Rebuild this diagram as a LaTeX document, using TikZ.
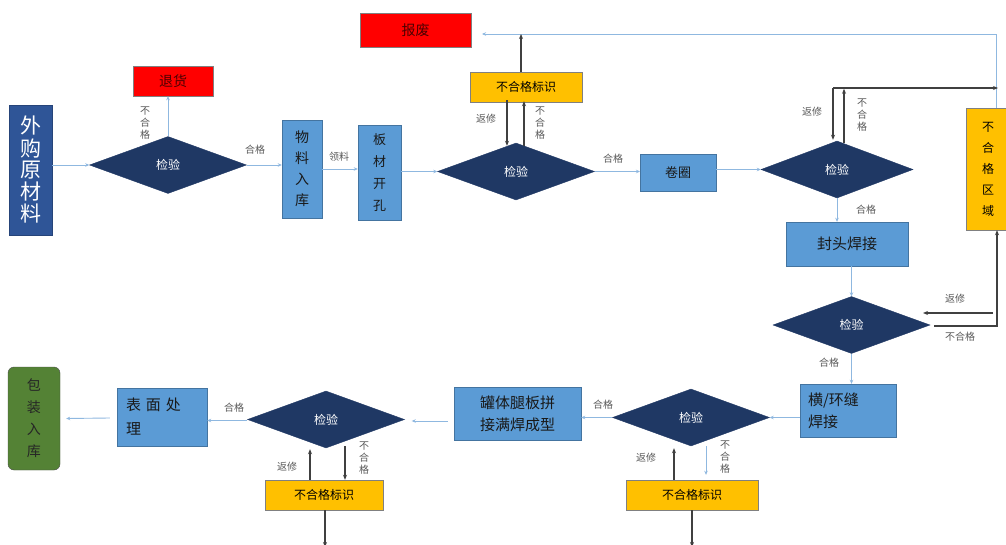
\documentclass[tikz,border=0pt]{standalone}
\usepackage{fontspec}
\setmainfont{Noto Sans CJK SC}
\usetikzlibrary{shapes.geometric,arrows.meta,calc}
\definecolor{boxdark}{HTML}{2F5597}
\definecolor{navy}{HTML}{1F3864}
\definecolor{lblue}{HTML}{5B9BD5}
\definecolor{yel}{HTML}{FFC000}
\definecolor{grn}{HTML}{548235}
\definecolor{arrowblue}{HTML}{8FB8E0}
\definecolor{darkarrow}{HTML}{404040}
\definecolor{labgray}{HTML}{595959}
\tikzset{
  fs/.style={font=\fontsize{#1}{#1}\selectfont},
  base/.style={inner sep=0pt, align=center},
  dbox/.style={base, rectangle, fill=boxdark, draw=boxdark!80!black, text=white},
  lbox/.style={base, rectangle, fill=lblue, draw=lblue!75!black, text=black!90},
  ybox/.style={base, rectangle, fill=yel, draw=gray, text=black, fs=12},
  rbox/.style={base, rectangle, fill=red, draw=gray, text=red!30!black, fs=14},
  gbox/.style={base, rectangle, rounded corners=6pt, fill=grn, draw=black!70, text=black!85},
  dia/.style={diamond, inner sep=0pt, fill=navy, draw=navy, text=white, fs=12, minimum width=157pt, minimum height=57pt},
  la/.style={draw=arrowblue, line width=0.9pt, -{Stealth[length=4pt,width=3.5pt]}},
  da/.style={draw=darkarrow, line width=1.3pt, -{Stealth[length=5pt,width=4pt]}},
  lab/.style={inner sep=0pt, text=labgray, font=\fontsize{10}{12}\selectfont, align=center},
}
\begin{document}
\begin{tikzpicture}[x=1pt,y=-1pt]
\useasboundingbox[fill=white] (0,0) rectangle (1006,545);

% nodes
\node[dbox, minimum width=43pt, minimum height=130pt, font=\fontsize{21}{22}\selectfont] (wg) at (30.5,170) {外\\购\\原\\材\\料};
\node[dia] (d1) at (168,165) {检验};
\node[rbox, minimum width=80pt, minimum height=30pt] (th) at (173,81) {退货};
\node[lbox, minimum width=40pt, minimum height=98pt, font=\fontsize{14}{21}\selectfont] (wl) at (302,169) {物\\料\\入\\库};
\node[lbox, minimum width=43pt, minimum height=95pt, font=\fontsize{13}{22}\selectfont] (bc) at (379.5,172.5) {板\\材\\开\\孔};
\node[dia] (d2) at (516,171.5) {检验};
\node[ybox, minimum width=112pt, minimum height=30pt] (y1) at (526,87) {不合格标识};
\node[rbox, minimum width=111pt, minimum height=34pt] (bf) at (415.5,30) {报废};
\node[lbox, minimum width=76pt, minimum height=37pt, fs=13, anchor=west, align=left, inner xsep=12pt] (jq) at (640,172.5) {卷圈};
\node[dia, minimum width=152pt] (d3) at (837,169.5) {检验};
\node[base, rectangle, fill=yel, draw=gray, minimum width=44pt, minimum height=122pt, font=\fontsize{12}{21}\selectfont] (bhq) at (988,169) {不\\合\\格\\区\\域};
\node[lbox, minimum width=122pt, minimum height=44pt, fs=15] (fthj) at (847,244) {封头焊接};
\node[dia] (d4) at (851.5,325) {检验};
\node[lbox, minimum width=96pt, minimum height=53pt, font=\fontsize{15}{22}\selectfont, align=left, text width=80pt] (hh) at (848,410.5) {横/环缝\\焊接};
\node[dia] (d5) at (691,417.5) {检验};
\node[ybox, minimum width=132pt, minimum height=30pt] (y2) at (692,495) {不合格标识};
\node[lbox, minimum width=127pt, minimum height=53pt, font=\fontsize{15}{22}\selectfont] (gt) at (517.5,413.5) {罐体腿板拼\\接满焊成型};
\node[dia] (d6) at (326,419.5) {检验};
\node[ybox, minimum width=118pt, minimum height=30pt] (y3) at (324,495) {不合格标识};
\node[lbox, minimum width=90pt, minimum height=58pt, font=\fontsize{15}{24}\selectfont, align=left, text width=72pt] (bm) at (162,417) {表\,\,面\,\,处\\理};
\node[gbox, minimum width=52pt, minimum height=103pt, font=\fontsize{14}{22}\selectfont] (bz) at (34,418.5) {包\\装\\入\\库};

% coordinates
\coordinate (zr) at (996,34);
\coordinate (bfin) at (482,34);
\coordinate (tlft) at (833,88);
\coordinate (tr) at (998,88);
\coordinate (br) at (997,326);
\coordinate (rx) at (997,313);
\coordinate (rxe) at (923,313);
\coordinate (e2) at (690,547);
\coordinate (e3) at (325,547);

% light connectors
\draw[la] (wg.east |- d1.west) -- (d1.west);
\draw[la] (d1.north) -- (d1.north |- th.south);
\draw[la] (d1.east) -- (d1.east -| wl.west);
\draw[la] (wl.east) -- (wl.east -| bc.west);
\draw[la] (bc.east |- d2.west) -- (d2.west);
\draw[la] (d2.east) -- (d2.east -| jq.west);
\draw[la] (jq.east |- d3.west) -- (d3.west);
\draw[la] (bhq.north -| zr) -- (zr) -- (bfin);
\draw[la] (d3.south) -- (d3.south |- fthj.north);
\draw[la] (d4.north |- fthj.south) -- (d4.north);
\draw[la] (d4.south) -- (d4.south |- hh.north);
\draw[la] (hh.west |- d5.east) -- (d5.east);
\draw[la] (d5.west) -- (d5.west -| gt.east);
\draw[la] ($(d5.south)+(15,0)$) -- ($(y2.north)+(14,-5)$);
\draw[la] ($(gt.west |- d6.east)+(-6,1.5)$) -- ($(d6.east)+(7,1.5)$);
\draw[la] ($(d6.west)+(0,1)$) -- ($(d6.west -| bm.east)+(0,1)$);
\draw[la] ($(bm.west)+(-7,1)$) -- ($(bz.east)+(6,0)$);

% dark connectors
\draw[da] ([xshift=-5]y1.north) -- ([xshift=-5]y1.north |- bfin);
\draw[da] ([xshift=-19,yshift=2]y1.south) -- ($(d2.north)+(-9,3)$);
\draw[da] ($(d2.north)+(8,3)$) -- ([xshift=-2,yshift=1]y1.south);
\draw[da] ($(d3.north)+(7,2)$) -- ($(d3.north)+(7,-52)$);
\draw[da, -] (tlft) -- ($(tr)+(-6,0)$);
\draw[da] ($(tr)+(-6,0)$) -- (tr);
\draw[da] (tlft) -- ($(d3.north)+(-4,-1)$);
\draw[da] ($(d4.east)+(4,1)$) -- (br) -- (bhq.south -| br);
\draw[da] ($(rx)+(-4,0)$) -- (rxe);
\draw[da] ([xshift=-18]y2.north) -- ($(d5.south)+(-17,2)$);
\draw[da] (y2.south) -- (y2.south |- e2);
\draw[da] ($(d6.south)+(19,-2)$) -- ([xshift=21]y3.north);
\draw[da] ([xshift=-14]y3.north) -- ($(d6.south)+(-16,1)$);
\draw[da] ([xshift=1]y3.south) -- ([xshift=1]y3.south |- e3);

% labels
\node[lab] (l1) at (145,123) {不\\合\\格};
\node[lab] (l2) at (255,150) {合格};
\node[lab] (l3) at (339,157) {领料};
\node[lab] (l4) at (486,119) {返修};
\node[lab] (l5) at (540,123) {不\\合\\格};
\node[lab] (l6) at (613,159) {合格};
\node[lab] (l7) at (812,112) {返修};
\node[lab] (l8) at (862,115) {不\\合\\格};
\node[lab] (l9) at (866,210) {合格};
\node[lab] (l10) at (955,299) {返修};
\node[lab] (l11) at (960,337) {不合格};
\node[lab] (l12) at (829,363) {合格};
\node[lab] (l13) at (603,405) {合格};
\node[lab] (l14) at (646,458) {返修};
\node[lab] (l15) at (725,457) {不\\合\\格};
\node[lab] (l16) at (234,408) {合格};
\node[lab] (l17) at (287,467) {返修};
\node[lab] (l18) at (364,458) {不\\合\\格};
\end{tikzpicture}
\end{document}
